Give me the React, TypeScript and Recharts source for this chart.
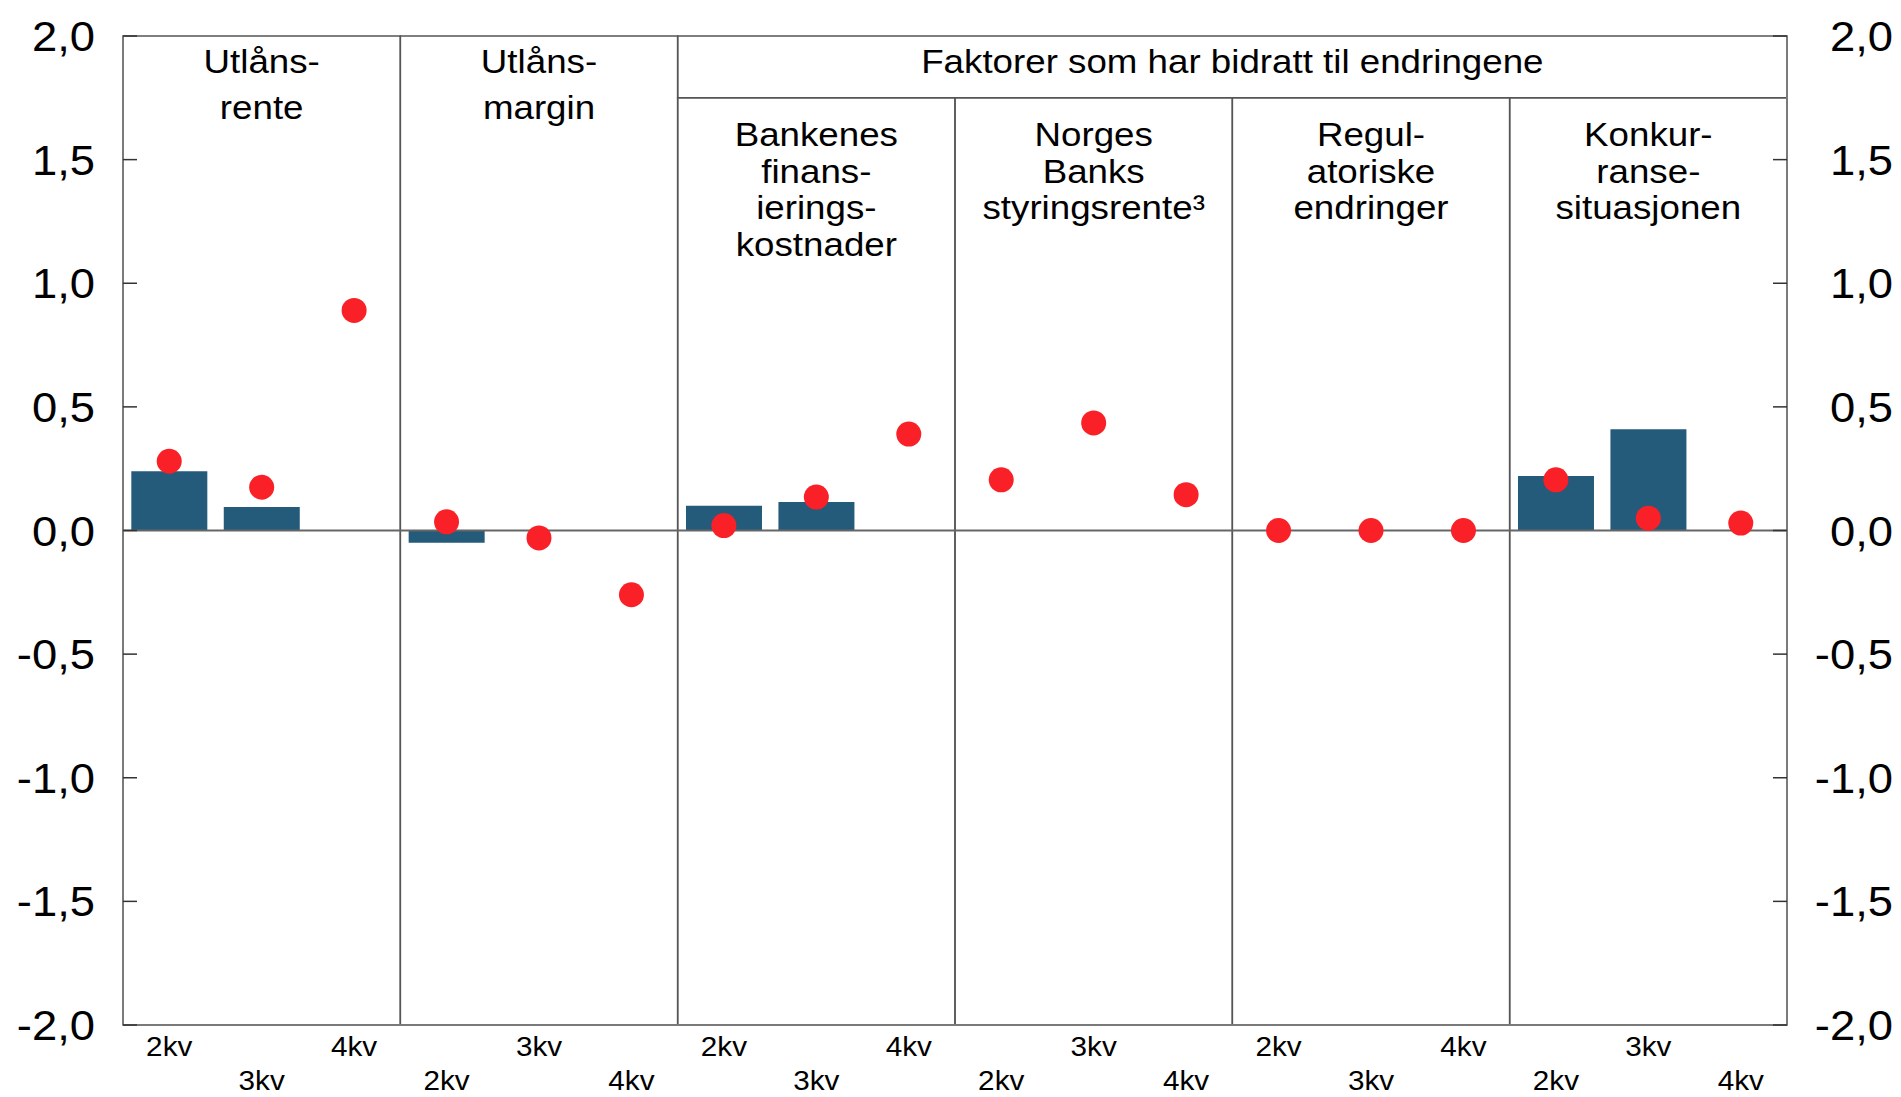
import React from 'react';
import { ComposedChart, Bar, Line, XAxis, YAxis, ReferenceLine, ReferenceArea } from 'recharts';

const panelIds = ['utlansrente', 'utlansmargin', 'finansiering', 'styringsrente', 'regulatoriske', 'konkurranse'];
const quarterLabels = ['2kv', '3kv', '4kv'];
const panelTitles: string[][] = [
  ['Utlåns-', 'rente'],
  ['Utlåns-', 'margin'],
  ['Bankenes', 'finans-', 'ierings-', 'kostnader'],
  ['Norges', 'Banks', 'styringsrente³'],
  ['Regul-', 'atoriske', 'endringer'],
  ['Konkur-', 'ranse-', 'situasjonen'],
];
const headerTitle = 'Faktorer som har bidratt til endringene';

const barValues: (number | null)[] = [
  0.24, 0.095, null,
  -0.05, null, null,
  0.1, 0.115, null,
  null, null, null,
  null, null, null,
  0.22, 0.41, null,
];
const dotValues: number[] = [
  0.28, 0.175, 0.89,
  0.035, -0.03, -0.26,
  0.02, 0.135, 0.39,
  0.205, 0.435, 0.145,
  0, 0, 0,
  0.205, 0.05, 0.03,
];
const yTicks = [2, 1.5, 1, 0.5, 0, -0.5, -1, -1.5, -2];
const headerLineValue = 1.75;

const data = panelIds.flatMap((p, pi) =>
  quarterLabels.map((q, qi) => {
    const i = pi * 3 + qi;
    return { key: `${p}-${q}`, quarter: q, bar: barValues[i], dot: dotValues[i] };
  })
);

const FONT = "'Liberation Sans', Arial, Helvetica, sans-serif";
const SX = 1.08;
const BAR_COLOR = '#245A7A';
const DOT_COLOR = '#FA2027';
const LINE_COLOR = '#555555';
const AXIS_COLOR = '#7a7a7a';

const fmt = (v: number) => v.toFixed(1).replace('.', ',');

const SText = ({ x, y, anchor, size, children }: any) => (
  <text
    transform={`translate(${x} ${y}) scale(${SX} 1)`}
    textAnchor={anchor}
    fontSize={size}
    fontFamily={FONT}
    fill="#000"
  >
    {children}
  </text>
);

const YTickLeft = (props: any) => {
  const { x, y, payload } = props;
  return (
    <g>
      <line x1={x} x2={x + 14} y1={y} y2={y} stroke="#333" strokeWidth={1.5} />
      <SText x={x - 28} y={y + 15} anchor="end" size={42}>{fmt(payload.value)}</SText>
    </g>
  );
};

const YTickRight = (props: any) => {
  const { x, y, payload } = props;
  return (
    <g>
      <line x1={x - 14} x2={x} y1={y} y2={y} stroke="#333" strokeWidth={1.5} />
      <SText x={x + 106} y={y + 15} anchor="end" size={42}>{fmt(payload.value)}</SText>
    </g>
  );
};

const XTick = (props: any) => {
  const { x, y, index } = props;
  const row = index % 2;
  const d = data[index];
  return (
    <SText x={x} y={y + (row === 0 ? 31 : 65)} anchor="middle" size={27.5}>
      {d ? d.quarter : ''}
    </SText>
  );
};

const makeTitle = (lines: string[], firstOffset: number, gap: number) => (props: any) => {
  const vb = props && props.viewBox ? props.viewBox : props;
  const cx = vb.x + vb.width / 2;
  return (
    <g>
      {lines.map((l, i) => (
        <SText key={i} x={cx} y={vb.y + firstOffset + i * gap} anchor="middle" size={34}>
          {l}
        </SText>
      ))}
    </g>
  );
};

export default function App() {
  return (
    <div style={{ position: 'absolute', left: 0, top: 0, width: 1901, height: 1097, background: '#fff' }}>
      <ComposedChart
        width={1901}
        height={1097}
        data={data}
        margin={{ top: 36, right: 0, bottom: 0, left: 0 }}
        barCategoryGap="9%"
      >
        <XAxis
          dataKey="key"
          xAxisId="x"
          interval={0}
          height={72}
          tickSize={0}
          tickMargin={0}
          tickLine={false}
          axisLine={{ stroke: AXIS_COLOR, strokeWidth: 2 }}
          tick={(p: any) => <XTick {...p} />}
        />
        <YAxis
          yAxisId="left"
          type="number"
          domain={[-2, 2]}
          ticks={yTicks}
          interval={0}
          width={123}
          tickSize={0}
          tickMargin={0}
          tickLine={false}
          allowDataOverflow
          axisLine={{ stroke: AXIS_COLOR, strokeWidth: 2 }}
          tick={(p: any) => <YTickLeft {...p} />}
        />
        <YAxis
          yAxisId="right"
          orientation="right"
          type="number"
          domain={[-2, 2]}
          ticks={yTicks}
          interval={0}
          width={114}
          tickSize={0}
          tickMargin={0}
          tickLine={false}
          allowDataOverflow
          axisLine={{ stroke: AXIS_COLOR, strokeWidth: 2 }}
          tick={(p: any) => <YTickRight {...p} />}
        />
        {panelIds.map((p, pi) => (
          <ReferenceArea
            key={p}
            xAxisId="x"
            yAxisId="left"
            x1={data[pi * 3].key}
            x2={data[pi * 3 + 2].key}
            y1={-2}
            y2={pi < 2 ? 2 : headerLineValue}
            fill="none"
            fillOpacity={0}
            stroke={LINE_COLOR}
            strokeWidth={1.5}
            ifOverflow="visible"
            label={pi < 2 ? makeTitle(panelTitles[pi], 37, 46) : makeTitle(panelTitles[pi], 48, 36.8)}
          />
        ))}
        <ReferenceArea
          xAxisId="x"
          yAxisId="left"
          x1={data[6].key}
          x2={data[17].key}
          y1={headerLineValue}
          y2={2}
          fill="none"
          fillOpacity={0}
          stroke={LINE_COLOR}
          strokeWidth={1.5}
          ifOverflow="visible"
          label={makeTitle([headerTitle], 37, 0)}
        />
        <Bar xAxisId="x" yAxisId="left" dataKey="bar" fill={BAR_COLOR} isAnimationActive={false} />
        <ReferenceLine xAxisId="x" yAxisId="left" y={0} stroke="#666" strokeWidth={2} />
        <Line
          xAxisId="x"
          yAxisId="left"
          dataKey="dot"
          stroke="none"
          strokeWidth={0}
          dot={{ r: 12.5, fill: DOT_COLOR, stroke: 'none', strokeWidth: 0 }}
          activeDot={false}
          isAnimationActive={false}
        />
      </ComposedChart>
    </div>
  );
}
